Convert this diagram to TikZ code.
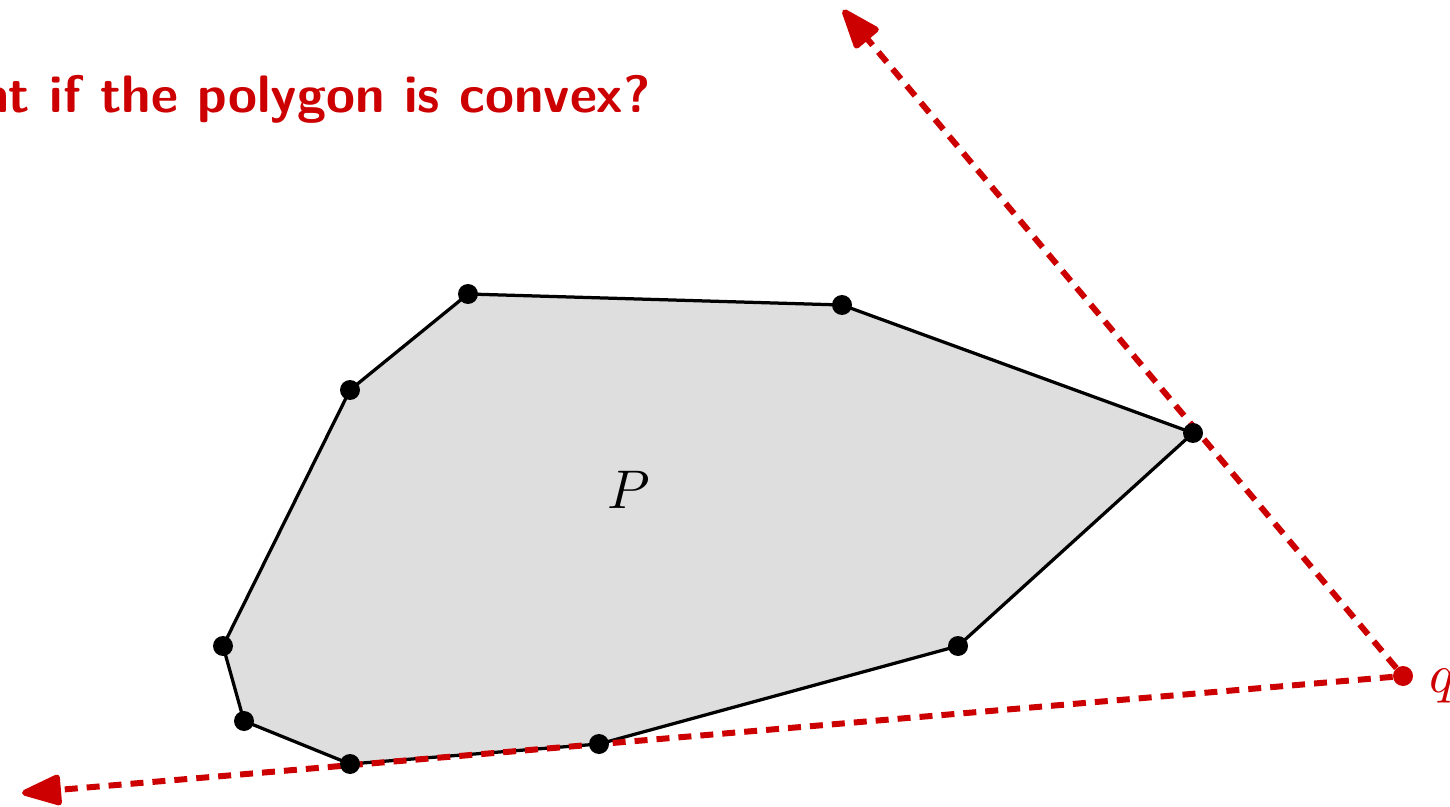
\documentclass[tikz,border=0pt]{standalone}
\usetikzlibrary{arrows.meta}
\definecolor{myred}{RGB}{204,0,0}
\definecolor{polyfill}{RGB}{222,222,222}
\begin{document}
\begin{tikzpicture}[x=0.02cm,y=-0.02cm,
  vdot/.style={circle,fill=black,inner sep=0pt,minimum size=0.4cm},
  qdot/.style={circle,fill=myred,inner sep=0pt,minimum size=0.4cm},
  redline/.style={myred,line width=0.12cm,dash pattern=on 0.26cm off 0.18cm,
     -{Triangle[length=0.9cm,width=0.64cm,round]}},
  polyedge/.style={black,line width=0.065cm,fill=polyfill,line join=round},
  bigmath/.style={scale=3.1,inner sep=0pt}]
\useasboundingbox (0,0) rectangle (1450,807);
% vertices
\coordinate (A) at (468,294);
\coordinate (B) at (842,305);
\coordinate (C) at (1193,433);
\coordinate (D) at (958,646);
\coordinate (E) at (599,744);
\coordinate (F) at (350,764);
\coordinate (G) at (244,721);
\coordinate (H) at (223,646);
\coordinate (I) at (350,390);
\coordinate (t1) at (843,10);
\coordinate (t2) at (22,793);
\draw[polyedge] (A) -- (B) -- (C) -- (D) -- (E) -- (F) -- (G) -- (H) -- (I) -- cycle;
\node[bigmath] (P) at (629,490) {$P$};
\node[qdot] (q) at (1403,676) {};
\node[bigmath,anchor=base west,text=myred] (ql) at (1428,692) {$q$};
\draw[redline] (q) -- (t1);
\draw[redline] (q) -- (t2);
\foreach \v in {A,B,C,D,E,F,G,H,I} \node[vdot] (d\v) at (\v) {};
\node[anchor=base east,text=myred,inner sep=0pt] (title) at (651,113)
  {\fontsize{30}{36}\selectfont\sffamily\bfseries What if the polygon is convex?};
\end{tikzpicture}
\end{document}
